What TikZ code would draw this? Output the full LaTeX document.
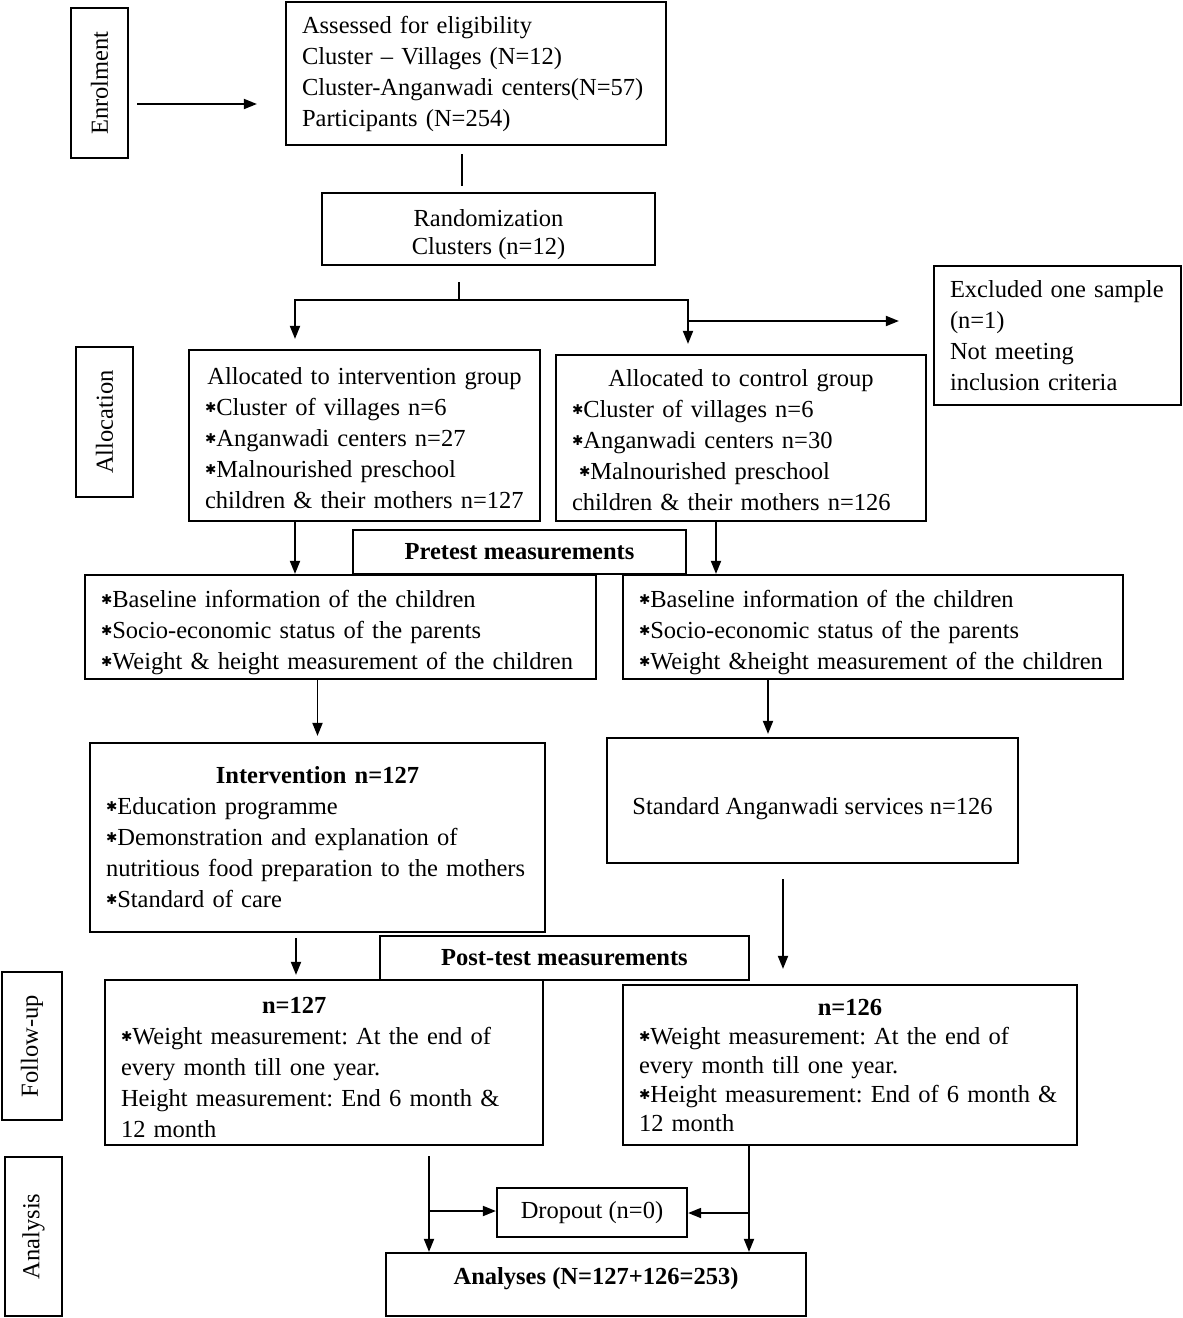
\documentclass[tikz,border=0pt]{standalone}
\usepackage{fontspec}
\setmainfont{Liberation Serif}
\newfontfamily\symfont{DejaVu Sans}
\usetikzlibrary{arrows.meta, positioning, calc}
\newcommand{\bul}{\raisebox{3pt}{\symfont\fontsize{13.5}{13.5}\selectfont ✱}}
\newcommand{\lift}[1]{\rule{0pt}{#1}}
\frenchspacing

\begin{document}
\begin{tikzpicture}[x=1pt, y=-1pt,
    box/.style={draw, line width=2.2pt, inner xsep=16pt, inner ysep=0pt, font=\fontsize{24.5}{31}\selectfont},
    lbox/.style={box, align=left},
    cbox/.style={box, align=center},
    side/.style={draw, line width=2.2pt, rotate=90, inner sep=0pt, font=\fontsize{24.5}{31}\selectfont},
    conn/.style={line width=1.8pt},
    arr/.style={conn, -{Triangle[length=13pt,width=10pt]}}
]
\useasboundingbox (0,0) rectangle (1183,1318);

% stage labels
\node[side, minimum width=150pt, minimum height=57pt] (enrol) at (99.5,83) {Enrolment};
\node[side, minimum width=150pt, minimum height=57pt] (alloc) at (104.5,422) {Allocation};
\node[side, minimum width=148pt, minimum height=60pt] (fu) at (32,1046) {Follow-up};
\node[side, minimum width=159pt, minimum height=57pt] (an) at (33.5,1236.5) {Analysis};

% enrolment
\node[lbox, minimum width=380pt, minimum height=143pt, text width=348pt] (assess) at (476,73.5)
    {Assessed for eligibility\\Cluster -- Villages (N=12)\\\mbox{Cluster-Anganwadi centers(N=57)}\\Participants (N=254)};
\node[cbox, minimum width=333pt, minimum height=72pt, font=\fontsize{24.5}{28}\selectfont] (rand) at (488.5,229)
    {\lift{29pt}Randomization\\Clusters (n=12)};
\node[lbox, minimum width=247pt, minimum height=139pt, text width=215pt] (excl) at (1057.5,335.5)
    {\mbox{Excluded one sample}\\(n=1)\\Not meeting\\inclusion criteria};

% allocation
\node[lbox, minimum width=351pt, minimum height=171pt, text width=319pt] (intAlloc) at (364.5,435.5)
    {\makebox[\hsize]{\lift{22pt}Allocated to intervention group}\\\bul Cluster of villages n=6\\\bul Anganwadi centers n=27\\\bul Malnourished preschool\\\mbox{children \& their mothers n=127}};
\node[lbox, minimum width=370pt, minimum height=166pt, text width=338pt] (ctrlAlloc) at (741,438)
    {\makebox[\hsize]{\lift{22pt}Allocated to control group}\\\bul Cluster of villages n=6\\\bul Anganwadi centers n=30\\\hspace*{7pt}\bul Malnourished preschool\\\mbox{children \& their mothers n=126}};

% pretest
\node[lbox, minimum width=511pt, minimum height=104pt, text width=479pt] (baseInt) at (340.5,627)
    {\lift{28pt}\bul Baseline information of the children\\\bul Socio-economic status of the parents\\\mbox{\bul Weight \& height measurement of the children}};
\node[lbox, minimum width=500pt, minimum height=104pt, text width=468pt] (baseCtrl) at (873,627)
    {\lift{28pt}\bul Baseline information of the children\\\bul Socio-economic status of the parents\\\mbox{\bul Weight \&height measurement of the children}};
\node[cbox, fill=white, minimum width=333pt, minimum height=44pt, font=\fontsize{24.5}{31}\selectfont\bfseries] (pretest) at (519.5,552) {Pretest measurements};

% intervention
\node[lbox, minimum width=455pt, minimum height=189pt, text width=423pt] (interv) at (317.5,837.5)
    {\makebox[\hsize]{\bfseries Intervention n=127}\\\bul Education programme\\\bul Demonstration and explanation of\\\mbox{nutritious food preparation to the mothers}\\\bul Standard of care};
\node[cbox, minimum width=411pt, minimum height=125pt] (std) at (812.5,800.5)
    {\raisebox{-14pt}[0pt][0pt]{Standard Anganwadi services n=126}};

% follow-up
\node[lbox, minimum width=438pt, minimum height=165pt, text width=406pt] (fuInt) at (324,1062.5)
    {\lift{25.5pt}\hspace*{141pt}\textbf{n=127}\\\bul Weight measurement: At the end of\\every month till one year.\\\mbox{Height measurement: End 6 month \&}\\12 month};
\node[lbox, minimum width=454pt, minimum height=160pt, text width=422pt, font=\fontsize{24.5}{29}\selectfont] (fuCtrl) at (850,1065)
    {\makebox[\hsize]{\bfseries n=126}\\\bul Weight measurement: At the end of\\every month till one year.\\\mbox{\bul Height measurement: End of 6 month \&}\\12 month};
\node[cbox, fill=white, minimum width=369pt, minimum height=44pt, font=\fontsize{24.5}{31}\selectfont\bfseries] (posttest) at (564.5,958) {Post-test measurements};

% analysis
\node[cbox, minimum width=190pt, minimum height=49pt] (drop) at (592,1212.5) {Dropout (n=0)};
\node[cbox, minimum width=420pt, minimum height=63pt, font=\fontsize{24.5}{31}\selectfont\bfseries] (analyses) at (596,1284.5) {\raisebox{0pt}[0pt][0pt]{Analyses (N=127+126=253)}};

% branch points
\coordinate (split) at (459,300);
\coordinate (exsplit) at (688,321);
\coordinate (anL) at (429,1211);
\coordinate (anR) at (749,1213);

% connectors
\draw[arr] ($(enrol.south)+(8,21)$) -- ($(assess.west)+(-28,30.5)$);
\draw[conn] ($(assess.south)+(-14,8)$) -- ($(rand.north)+(-26.5,-6)$);
\draw[conn] ($(rand.south)+(-29.5,16)$) -- (split);
\draw[arr] (split) -| ($(intAlloc.north)+(-69.5,-10)$);
\draw[arr] (split) -| ($(ctrlAlloc.north)+(-53,-10)$);
\draw[arr] (exsplit) -- ($(excl.west)+(-34,-14.5)$);
\draw[arr] ($(intAlloc.south)+(-69.5,0)$) -- ($(baseInt.north)+(-45.5,0)$);
\draw[arr] ($(ctrlAlloc.south)+(-25,0)$) -- ($(baseCtrl.north)+(-157,0)$);
\draw[arr] ($(baseInt.south)+(-23,0)$) -- ($(interv.north)+(0,-6)$);
\draw[arr] ($(baseCtrl.south)+(-105,0)$) -- ($(std.north)+(-44.5,-3)$);
\draw[arr] ($(interv.south)+(-21.5,5)$) -- ($(fuInt.north)+(-28,-4)$);
\draw[arr] ($(std.south)+(-29.5,15)$) -- ($(fuCtrl.north)+(-67,-15)$);
\draw[arr] ($(fuInt.south)+(105,10)$) -- ($(analyses.north)+(-167,0)$);
\draw[arr] ($(fuCtrl.south)+(-101,0)$) -- ($(analyses.north)+(153,0)$);
\draw[arr] (anL) -- (anL -| drop.west);
\draw[arr] (anR) -- (anR -| drop.east);
\end{tikzpicture}
\end{document}
